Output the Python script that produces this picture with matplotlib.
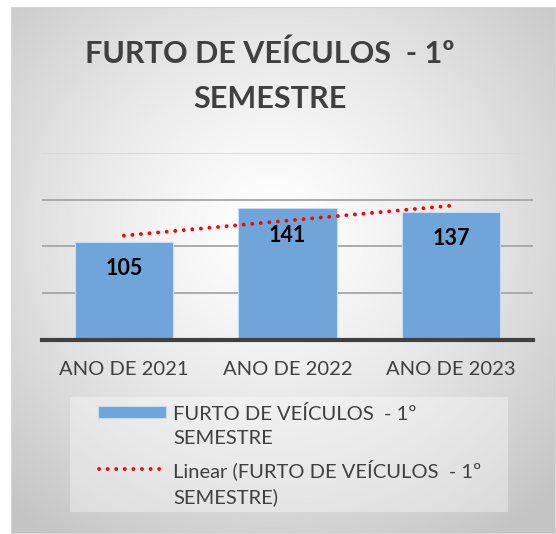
import numpy as np
import matplotlib
matplotlib.use("Agg")
import matplotlib.pyplot as plt
from matplotlib.patches import Rectangle
from matplotlib.lines import Line2D

# ---- data ----
categories = ["ANO DE 2021", "ANO DE 2022", "ANO DE 2023"]
values = [105, 141, 137]
series_name = "FURTO DE VEÍCULOS  - 1º\nSEMESTRE"
trend_name = "Linear (FURTO DE VEÍCULOS  - 1º\nSEMESTRE)"
title = "FURTO DE VEÍCULOS  - 1º\nSEMESTRE"
y_ticks = [0, 50, 100, 150, 200]

W, H = 556, 534
DPI = 100
FONT = "Lato"
TXT = "#404040"
BAR = "#6fa5d9"

fig = plt.figure(figsize=(W / DPI, H / DPI), dpi=DPI)
fig.patch.set_facecolor("white")

def fx(px):
    return px / W

def fy(py):
    return 1 - py / H

# ---- gradient background (chart area) ----
x0, y0 = 11, 7
bg = fig.add_axes([fx(x0), fy(H), fx(W - x0), fy(y0) - fy(H)])
bg.set_axis_off()
gx = np.linspace(0, 1, 300)
gy = np.linspace(0, 1, 300)
GX, GY = np.meshgrid(gx, gy)
r = np.sqrt(((GX - 0.48) / 1.0) ** 2 + ((GY - 0.42) / 1.0) ** 2)
t = np.clip(r / 0.72, 0, 1) ** 1.3
c0 = np.array([1.0, 1.0, 1.0])
c1 = np.array([0.77, 0.77, 0.77])
img = c0[None, None, :] * (1 - t[..., None]) + c1[None, None, :] * t[..., None]
bg.imshow(img, extent=[0, 1, 0, 1], origin="upper", aspect="auto")
bg.set_xlim(0, 1)
bg.set_ylim(0, 1)
bg.add_patch(Rectangle((0, 0), 1, 1, transform=bg.transAxes, fill=False,
                       edgecolor="#d6d6d6", linewidth=1.5))

# ---- main axes ----
ax = fig.add_axes([fx(42), fy(340), fx(533) - fx(42), fy(153) - fy(340)])
ax.patch.set_alpha(0)
x = np.arange(len(categories))
ax.set_xlim(-0.5, len(categories) - 0.5)
ax.set_ylim(y_ticks[0], y_ticks[-1])

for yv in y_ticks[1:]:
    col = "#d9d9d9" if yv == y_ticks[-1] else "#a6a6a6"
    ax.axhline(yv, color=col, linewidth=1.3, zorder=1)

bars = ax.bar(x, values, width=0.6, color=BAR, edgecolor="#c5dcf0",
              linewidth=0.8, zorder=2)
ax.axhline(0, color="#404040", linewidth=3, zorder=4, clip_on=False)

for xi, v in zip(x, values):
    ax.annotate(str(v), (xi, v), xytext=(0, -27), textcoords="offset pixels",
                ha="center", va="center", fontsize=15.5, fontweight="bold",
                color="black", family=FONT, zorder=5)

# trendline (linear least squares)
coef = np.polyfit(x, values, 1)
trend = np.polyval(coef, x)
ax.plot(x, trend, color="#ff0000", linewidth=2.8,
        linestyle=(0, (0.01, 2.2)), dash_capstyle="round", zorder=6)

ax.set_xticks(x)
ax.set_xticklabels(categories, fontsize=14.5, color=TXT, family=FONT)
ax.tick_params(axis="x", length=0, pad=15)
ax.set_yticks([])
for s in ax.spines.values():
    s.set_visible(False)

# ---- title ----
fig.text(fx(270), fy(76), title, ha="center", va="center", fontsize=22,
         fontweight="bold", color=TXT, family=FONT, linespacing=1.72)

# ---- legend (drawn manually) ----
fig.patches.append(Rectangle((fx(70), fy(512)), fx(508) - fx(70), fy(397) - fy(512),
                             transform=fig.transFigure, facecolor="white",
                             alpha=0.35, edgecolor="none", zorder=1))
fig.patches.append(Rectangle((fx(98), fy(418)), fx(166) - fx(98), fy(406) - fy(418),
                             transform=fig.transFigure, facecolor=BAR,
                             edgecolor="#c5dcf0", linewidth=0.8, zorder=2))
fig.lines.append(Line2D([fx(99), fx(166)], [fy(469), fy(469)], transform=fig.transFigure,
                        color="#ff0000", linewidth=2.8, linestyle=(0, (0.01, 2.2)),
                        dash_capstyle="round", zorder=2))
fig.text(fx(173), fy(426), series_name, ha="left", va="center", fontsize=14.5,
         color=TXT, family=FONT, linespacing=1.56)
fig.text(fx(173), fy(483), trend_name, ha="left", va="center", fontsize=14.5,
         color=TXT, family=FONT, linespacing=1.56)

fig.savefig("out.png", dpi=DPI)
